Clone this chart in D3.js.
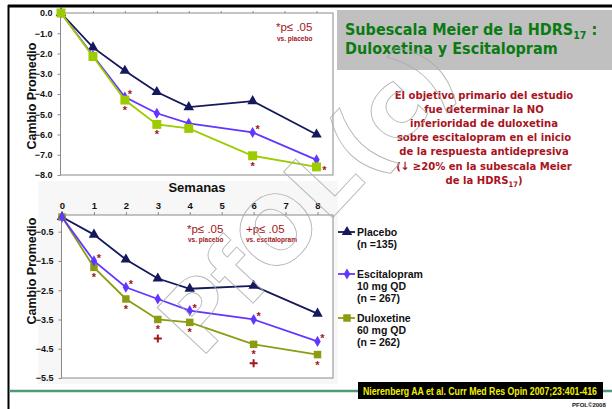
<!DOCTYPE html>
<html>
<head>
<meta charset="utf-8">
<script src="https://cdn.jsdelivr.net/npm/d3@7"></script>
<style>
  html, body { margin: 0; padding: 0; background: #ffffff; }
  svg { display: block; }
  .ax { font-family: "Liberation Sans", Arial, sans-serif; font-weight: bold; }
</style>
</head>
<body>
<svg id="chart" width="612" height="409"></svg>
<script>
// ---- data -------------------------------------------------------------
const weeks = [0, 1, 2, 3, 4, 6, 8];
const weekTicks = [0, 1, 2, 3, 4, 5, 6, 7, 8];

// Meier subscale (upper panel)
const meierPlacebo = [0, -1.7, -2.85, -3.9, -4.65, -4.35, -6.0];
const meierEscitalopram = [0, -2.1, -4.15, -4.95, -5.45, -5.9, -7.25];
const meierDuloxetine = [0, -2.15, -4.3, -5.5, -5.7, -7.05, -7.6];
const meierTicks = [0, -1, -2, -3, -4, -5, -6, -7, -8];
const meierSigEsc = [2, 6];          // * vs placebo
const meierSigDul = [2, 3, 6, 8];    // * vs placebo

// HDRS17 total (lower panel)
const totalPlacebo = [0, -0.6, -1.45, -2.1, -2.45, -2.35, -3.3];
const totalEscitalopram = [0, -1.5, -2.4, -2.8, -3.2, -3.5, -4.25];
const totalDuloxetine = [0, -1.72, -2.8, -3.5, -3.6, -4.35, -4.7];
const totalTicks = [-0.5, -1.5, -2.5, -3.5, -4.5, -5.5];
const totalSigEsc = [1, 2, 4, 6, 8];
const totalSigDul = [1, 2, 3, 4, 6, 8];
const totalPlusDul = [3, 6];         // + vs escitalopram

const legendItems = [
  { key: "placebo", lines: ["Placebo", "(n =135)"] },
  { key: "esc", lines: ["Escitalopram", "10 mg QD", "(n = 267)"] },
  { key: "dul", lines: ["Duloxetine", "60 mg QD", "(n = 262)"] }
];

const noteLines = [
  "El objetivo primario del estudio",
  "fue determinar la NO",
  "inferioridad de duloxetina",
  "sobre escitalopram en el inicio",
  "de la respuesta antidepresiva",
  "(\u2193 \u226520% en la subescala Meier",
  "de la HDRS"
];

// ---- drawing ----------------------------------------------------------
const svg = d3.select("#chart");
const NAVY = "#15185a", BLUE = "#6236ff", LIME = "#9ccc00", OLIVE = "#8c9c12", RED = "#a3161c";

// frame lines
svg.append("rect").attr("x", 38).attr("y", 181).attr("width", 300).attr("height", 203).attr("fill", "#f7f7f7");
svg.append("line").attr("x1", 8).attr("x2", 612).attr("y1", 6).attr("y2", 6).attr("stroke", "#000").attr("stroke-width", 3);
svg.append("line").attr("x1", 8.5).attr("x2", 8.5).attr("y1", 5).attr("y2", 409).attr("stroke", "#000").attr("stroke-width", 2);
svg.append("line").attr("x1", 9).attr("x2", 612).attr("y1", 391).attr("y2", 391).attr("stroke", "#4f9a78").attr("stroke-width", 2.5);

// title box
svg.append("rect").attr("x", 337).attr("y", 10).attr("width", 275).attr("height", 60).attr("fill", "#c0c0c0");
const title = svg.append("g").attr("fill", "#0b7a12")
  .style("font-family", "'DejaVu Sans Condensed', 'DejaVu Sans', sans-serif").style("font-weight", "bold");
const t1 = title.append("text").attr("x", 345).attr("y", 35).style("font-size", "16px");
t1.append("tspan").text("Subescala Meier de la HDRS");
t1.append("tspan").attr("dy", 4).style("font-size", "10.5px").text("17");
t1.append("tspan").attr("dy", -4).text(" :");
title.append("text").attr("x", 345).attr("y", 54).style("font-size", "16px").text("Duloxetina y Escitalopram");

// note text
const note = svg.append("g").attr("fill", "#a8141e").attr("text-anchor", "middle")
  .style("font-family", "'DejaVu Sans Condensed', 'DejaVu Sans', sans-serif").style("font-weight", "bold").style("font-size", "11.2px");
noteLines.forEach((s, i) => {
  const t = note.append("text").attr("x", 484).attr("y", 99 + i * 14.1);
  t.append("tspan").text(s);
  if (i === noteLines.length - 1) {
    t.append("tspan").attr("dy", 3).style("font-size", "7.5px").text("17");
    t.append("tspan").attr("dy", -3).text(")");
  }
});

// thin plus-sign path for the "vs. escitalopram" marker
const plusPath = (r) => `M${-r},0H${r}M0,${-r}V${r}`;

function panel(cfg) {
  const x = d3.scaleLinear().domain([0, 8]).range([cfg.x0, cfg.x1]);
  const y = d3.scaleLinear().domain(cfg.yDomain).range([cfg.top, cfg.bottom]);
  const g = svg.append("g");
  g.append("rect").attr("x", cfg.x0 - 0.5).attr("y", cfg.top).attr("width", 333 - cfg.x0 + 0.5)
    .attr("height", cfg.bottom - cfg.top).attr("fill", "#fff").attr("stroke", "#8a8a8a").attr("stroke-width", 1);

  // y axis
  const ya = g.append("g").attr("class", "ax").attr("transform", `translate(${cfg.x0 - 0.5},0)`)
    .call(d3.axisLeft(y).tickValues(cfg.ticks).tickSize(3).tickPadding(5).tickFormat(d3.format(".1f")));
  ya.select(".domain").remove();
  ya.selectAll("line").attr("stroke", "#8a8a8a");
  ya.selectAll("text").style("font-size", "9px").attr("fill", "#111");

  // x axis along the top
  const xa = g.append("g").attr("class", "ax").attr("transform", `translate(0,${cfg.top})`)
    .call(d3.axisTop(x).tickValues(weekTicks).tickSize(cfg.xTickSize).tickPadding(cfg.xPad)
      .tickFormat(cfg.xLabels ? d3.format("d") : ""));
  xa.select(".domain").remove();
  xa.selectAll("line").attr("stroke", "#8a8a8a");
  xa.selectAll("text").style("font-size", "9.5px").attr("fill", "#111");

  // y title
  g.append("text").attr("class", "ax").attr("transform", `translate(36,${cfg.titleY}) rotate(-90)`)
    .attr("text-anchor", "middle").style("font-size", "12.5px").attr("fill", "#111").text("Cambio Promedio");

  const line = d3.line().x((d, i) => x(weeks[i])).y(d => y(d));
  const series = [
    { key: "placebo", vals: cfg.placebo, color: NAVY, shape: d3.symbolTriangle, size: 48 },
    { key: "esc", vals: cfg.esc, color: BLUE, shape: d3.symbolDiamond, size: 36 },
    { key: "dul", vals: cfg.dul, color: cfg.dulColor, shape: d3.symbolSquare, size: cfg.sqSize }
  ];
  const order = cfg.order.map(k => series.find(s => s.key === k));
  order.forEach(s => {
    g.append("path").datum(s.vals).attr("d", line).attr("fill", "none")
      .attr("stroke", s.color).attr("stroke-width", 1.8);
    g.selectAll(null).data(s.vals).enter().append("path")
      .attr("d", d3.symbol().type(s.shape).size(s.size))
      .attr("transform", (d, i) => `translate(${x(weeks[i])},${y(d)})`)
      .attr("fill", s.color);
  });

  // significance marks: * vs placebo, + (stacked beneath) vs escitalopram
  const star = (wk, vals, dx, dy) => {
    const i = weeks.indexOf(wk);
    g.append("text").attr("x", x(wk) + dx).attr("y", y(vals[i]) + dy)
      .attr("text-anchor", "middle").attr("fill", RED).attr("class", "ax")
      .style("font-size", "11px").text("*");
  };
  cfg.sigEsc.forEach(w => star(w, cfg.esc, 5, 1));
  cfg.sigDul.forEach(w => {
    if (cfg.lastRight && w === 8) star(w, cfg.dul, 8, 7);
    else star(w, cfg.dul, 0, 14);
  });
  (cfg.plusDul || []).forEach(w => {
    const i = weeks.indexOf(w);
    g.append("path").attr("d", plusPath(4))
      .attr("transform", `translate(${x(w)},${y(cfg.dul[i]) + 19})`)
      .attr("stroke", RED).attr("stroke-width", 2).attr("fill", "none");
  });
  return { x, y, g };
}

const meierPanel = panel({
  x0: 61, x1: 316.5, top: 13, bottom: 175, yDomain: [0, -8], ticks: meierTicks,
  xTickSize: 2, xPad: 2, xLabels: false, titleY: 96,
  placebo: meierPlacebo, esc: meierEscitalopram, dul: meierDuloxetine, dulColor: LIME, sqSize: 80,
  order: ["placebo", "esc", "dul"], sigEsc: meierSigEsc, sigDul: meierSigDul, lastRight: true
});
meierPanel.g.append("text").attr("class", "ax").attr("x", 197).attr("y", 192).attr("text-anchor", "middle")
  .style("font-size", "13px").attr("fill", "#111").text("Semanas");
meierPanel.g.append("text").attr("class", "ax").attr("x", 276).attr("y", 31).attr("fill", RED).style("font-size", "11.5px").style("font-weight", "normal").text("*p\u2264 .05");
meierPanel.g.append("text").attr("class", "ax").attr("x", 277).attr("y", 41).attr("fill", RED).style("font-size", "6.5px").text("vs. placebo");

const totalPanel = panel({
  x0: 62, x1: 317.5, top: 215, bottom: 378, yDomain: [0.07, -5.5], ticks: totalTicks,
  xTickSize: 3, xPad: 3, xLabels: true, titleY: 271,
  placebo: totalPlacebo, esc: totalEscitalopram, dul: totalDuloxetine, dulColor: OLIVE, sqSize: 56,
  order: ["placebo", "dul", "esc"], sigEsc: totalSigEsc, sigDul: totalSigDul, plusDul: totalPlusDul, lastRight: false
});
totalPanel.g.append("text").attr("class", "ax").attr("x", 187).attr("y", 233).attr("fill", RED).style("font-size", "11.5px").style("font-weight", "normal").text("*p\u2264 .05");
totalPanel.g.append("text").attr("class", "ax").attr("x", 188).attr("y", 242).attr("fill", RED).style("font-size", "6.5px").text("vs. placebo");
totalPanel.g.append("text").attr("class", "ax").attr("x", 246).attr("y", 233).attr("fill", RED).style("font-size", "11.5px").style("font-weight", "normal").text("+p\u2264 .05");
totalPanel.g.append("text").attr("class", "ax").attr("x", 246).attr("y", 242).attr("fill", RED).style("font-size", "6.5px").text("vs. escitalopram");

// legend
const legColors = { placebo: NAVY, esc: BLUE, dul: OLIVE };
const legShapes = { placebo: [d3.symbolTriangle, 48], esc: [d3.symbolDiamond, 36], dul: [d3.symbolSquare, 56] };
const legY = [232, 274, 318];
const lg = svg.append("g");
legendItems.forEach((it, k) => {
  const yy = legY[k];
  lg.append("line").attr("x1", 338).attr("x2", 355).attr("y1", yy).attr("y2", yy)
    .attr("stroke", legColors[it.key]).attr("stroke-width", 1.8);
  lg.append("path").attr("d", d3.symbol().type(legShapes[it.key][0]).size(legShapes[it.key][1]))
    .attr("transform", `translate(347,${yy})`).attr("fill", legColors[it.key]);
  it.lines.forEach((s, j) => {
    lg.append("text").attr("class", "ax").attr("x", 357).attr("y", yy + 4 + j * 12)
      .style("font-size", "10.5px").attr("fill", "#111").text(s);
  });
});

// citation (condensed horizontally to fit its box)
svg.append("rect").attr("x", 358).attr("y", 382).attr("width", 245).attr("height", 17).attr("fill", "#000");
const cite = svg.append("text").attr("x", 0).attr("y", 0).attr("fill", "#f2f000")
  .style("font-family", "'Liberation Sans', Arial, sans-serif").style("font-weight", "bold")
  .style("font-size", "10.5px")
  .text("Nierenberg AA et al. Curr Med Res Opin 2007;23:401-416");
const citeLen = cite.node().getComputedTextLength();
cite.attr("transform", `translate(363,394.5) scale(${234 / citeLen},1)`);

svg.append("text").attr("x", 572).attr("y", 407).attr("fill", "#111")
  .style("font-family", "'Liberation Sans', Arial, sans-serif").style("font-weight", "bold").style("font-size", "6px")
  .text("PFOL\u00a92008");

// watermark
svg.append("text").attr("transform", "translate(308,198) rotate(-47)").attr("text-anchor", "middle")
  .attr("dominant-baseline", "central")
  .style("font-family", "'DejaVu Sans', sans-serif").style("font-weight", "bold").style("font-size", "92px")
  .attr("fill", "none").attr("stroke", "#ababab").attr("stroke-width", 0.9).attr("opacity", 0.85)
  .text("PfOL(c)");
</script>
</body>
</html>
